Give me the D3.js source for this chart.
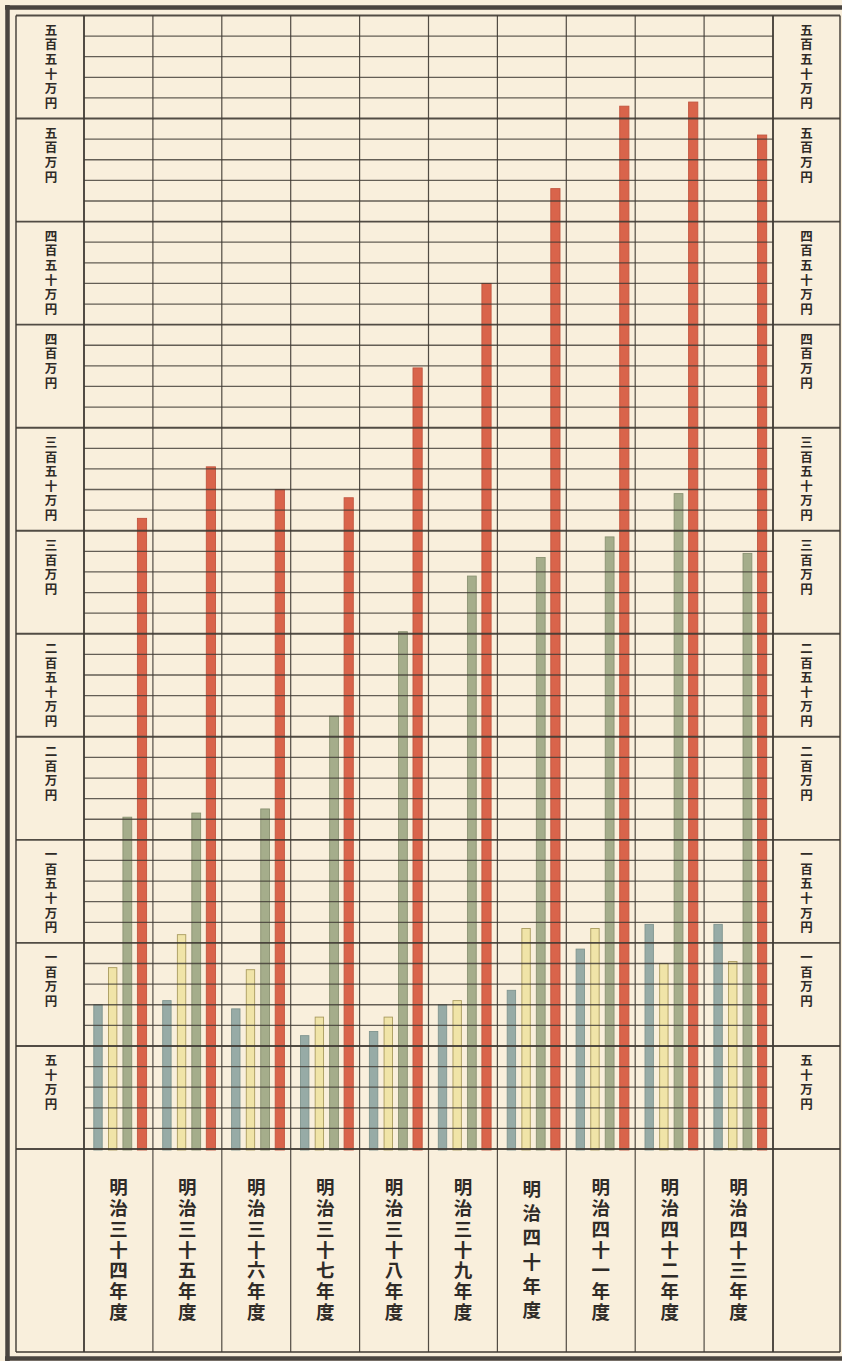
<!DOCTYPE html>
<html>
<head>
<meta charset="utf-8">
<script src="https://cdn.jsdelivr.net/npm/d3@7"></script>
<style>
  html, body { margin: 0; padding: 0; background: #f9efdc; }
  svg { display: block; }
  text.vert { writing-mode: vertical-rl; text-orientation: upright; }
</style>
</head>
<body>
<script>
// Fiscal years (Meiji 34 – Meiji 43)
const categories = [
  "明治三十四年度", "明治三十五年度", "明治三十六年度", "明治三十七年度", "明治三十八年度",
  "明治三十九年度", "明治四十年度", "明治四十一年度", "明治四十二年度", "明治四十三年度"
];

// Amounts in 万円, four series per year
const seriesKeys = ["blue", "yellow", "green", "red"];
const blueValues   = [70, 72, 68, 55, 57, 70, 77, 97, 109, 109];
const yellowValues = [88, 104, 87, 64, 64, 72, 107, 107, 90, 91];
const greenValues  = [161, 163, 165, 210, 251, 278, 287, 297, 318, 289];
const redValues    = [306, 331, 320, 316, 379, 420, 466, 506, 508, 492];

// Scale bands: each label sits in the band just below its line
const tickValues = [550, 500, 450, 400, 350, 300, 250, 200, 150, 100, 50];
const tickLabels = [
  "五百五十万円", "五百万円", "四百五十万円", "四百万円", "三百五十万円", "三百万円",
  "二百五十万円", "二百万円", "一百五十万円", "一百万円", "五十万円"
];

const seriesValues = { blue: blueValues, yellow: yellowValues, green: greenValues, red: redValues };
const fills   = { blue: "#97aba6", yellow: "#f0e4a8", green: "#a5ad8b", red: "#d9644b" };
const strokes = { blue: "#7f948f", yellow: "#a99b5e", green: "#8a9272", red: "#c2553f" };

const W = 842, H = 1361;
const frameL = 16, frameR = 840, frameTop = 15.5, frameBottom = 1352;
const plotL = 84, plotR = 773, base = 1149;
const labelTop = 1177, labelBottom = 1322;

const svg = d3.select("body").append("svg")
  .attr("width", W).attr("height", H)
  .attr("viewBox", `0 0 ${W} ${H}`);

svg.append("rect").attr("width", W).attr("height", H).attr("fill", "#f9efdc");

const y = d3.scaleLinear().domain([0, 550]).range([base, frameTop]);
const x0 = d3.scaleBand().domain(categories).range([plotL, plotR]).padding(0);
const x1 = d3.scalePoint().domain(seriesKeys).range([14, 58]);
const barW = { blue: 8.4, yellow: 8.4, green: 8.8, red: 9.2 };

// Bars
const rows = categories.map((c, i) => ({
  cat: c,
  items: seriesKeys.map(k => ({ key: k, value: seriesValues[k][i] }))
}));

const groups = svg.append("g").selectAll("g").data(rows).join("g")
  .attr("transform", d => `translate(${x0(d.cat)},0)`);

groups.selectAll("rect").data(d => d.items).join("rect")
  .attr("x", d => x1(d.key) - barW[d.key] / 2)
  .attr("y", d => y(d.value))
  .attr("width", d => barW[d.key])
  .attr("height", d => y(0) - y(d.value) + 1)
  .attr("fill", d => fills[d.key])
  .attr("stroke", d => strokes[d.key])
  .attr("stroke-width", 0.9);

const lineColor = "#3f3a33";
const grid = svg.append("g");

// Minor rules every 10万円 inside the plot
const minor = d3.range(10, 550, 10).filter(v => v % 50 !== 0);
grid.selectAll("line.minor").data(minor).join("line")
  .attr("x1", plotL).attr("x2", plotR)
  .attr("y1", d => y(d)).attr("y2", d => y(d))
  .attr("stroke", lineColor).attr("stroke-width", 1.3).attr("stroke-opacity", 0.8);

// Major rules every 50万円 across the full width
grid.selectAll("line.major").data(d3.range(0, 551, 50)).join("line")
  .attr("x1", frameL).attr("x2", frameR)
  .attr("y1", d => y(d)).attr("y2", d => y(d))
  .attr("stroke", lineColor).attr("stroke-width", 1.9).attr("stroke-opacity", 0.9);

// Column rules
const colEdges = categories.map(c => x0(c)).concat([plotR]);
grid.selectAll("line.col").data(colEdges).join("line")
  .attr("x1", d => d).attr("x2", d => d)
  .attr("y1", frameTop).attr("y2", frameBottom)
  .attr("stroke", lineColor)
  .attr("stroke-width", (d, i) => (i === 0 || i === colEdges.length - 1) ? 2 : 1.2)
  .attr("stroke-opacity", 0.9);

// Frame
const frame = svg.append("g").attr("fill", "none").attr("stroke", lineColor);
frame.append("line").attr("x1", frameL).attr("x2", frameL).attr("y1", frameTop).attr("y2", frameBottom).attr("stroke-width", 1.4);
frame.append("line").attr("x1", frameR).attr("x2", frameR).attr("y1", frameTop).attr("y2", frameBottom).attr("stroke-width", 1.4);
frame.append("line").attr("x1", frameL).attr("x2", frameR).attr("y1", frameBottom).attr("y2", frameBottom).attr("stroke-width", 1.6);
frame.append("line").attr("x1", 7.5).attr("x2", 7.5).attr("y1", 5).attr("y2", H).attr("stroke-width", 4.5).attr("stroke", "#4a4540");
frame.append("line").attr("x1", 5).attr("x2", W).attr("y1", 7.5).attr("y2", 7.5).attr("stroke-width", 4.5).attr("stroke", "#4a4540");
frame.append("line").attr("x1", 5).attr("x2", W).attr("y1", 1358.5).attr("y2", 1358.5).attr("stroke-width", 4.5).attr("stroke", "#4a4540");

const font = "'Noto Sans CJK JP', 'Noto Sans CJK SC', sans-serif";
const textColor = "#2f2b27";

// Draws a label set vertically (top to bottom) as a single run of text
function verticalLabel(g, label, cx, top, pitch, size) {
  g.append("text")
    .attr("class", "vert")
    .attr("x", cx)
    .attr("y", top)
    .attr("text-anchor", "start")
    .attr("font-family", font).attr("font-weight", 700).attr("font-size", size)
    .attr("letter-spacing", pitch - size)
    .attr("fill", textColor)
    .text(label);
}

// Scale labels on both sides
const sideCenters = [(frameL + plotL) / 2 + 1, (plotR + frameR) / 2];
const tickSize = 12.5, tickPitch = 14.6;
const tickG = svg.append("g");
tickValues.forEach((v, i) => {
  sideCenters.forEach(cx =>
    verticalLabel(tickG, tickLabels[i], cx, y(v) + 14.5 - tickSize / 2, tickPitch, tickSize));
});

// Year labels, spread evenly over the same height
const catSize = 18.5;
const catG = svg.append("g");
categories.forEach(c => {
  const n = Array.from(c).length;
  const slot = (labelBottom - labelTop) / n;
  verticalLabel(catG, c, x0(c) + x0.bandwidth() / 2, labelTop + slot / 2 - catSize / 2, slot, catSize);
});
</script>
</body>
</html>
